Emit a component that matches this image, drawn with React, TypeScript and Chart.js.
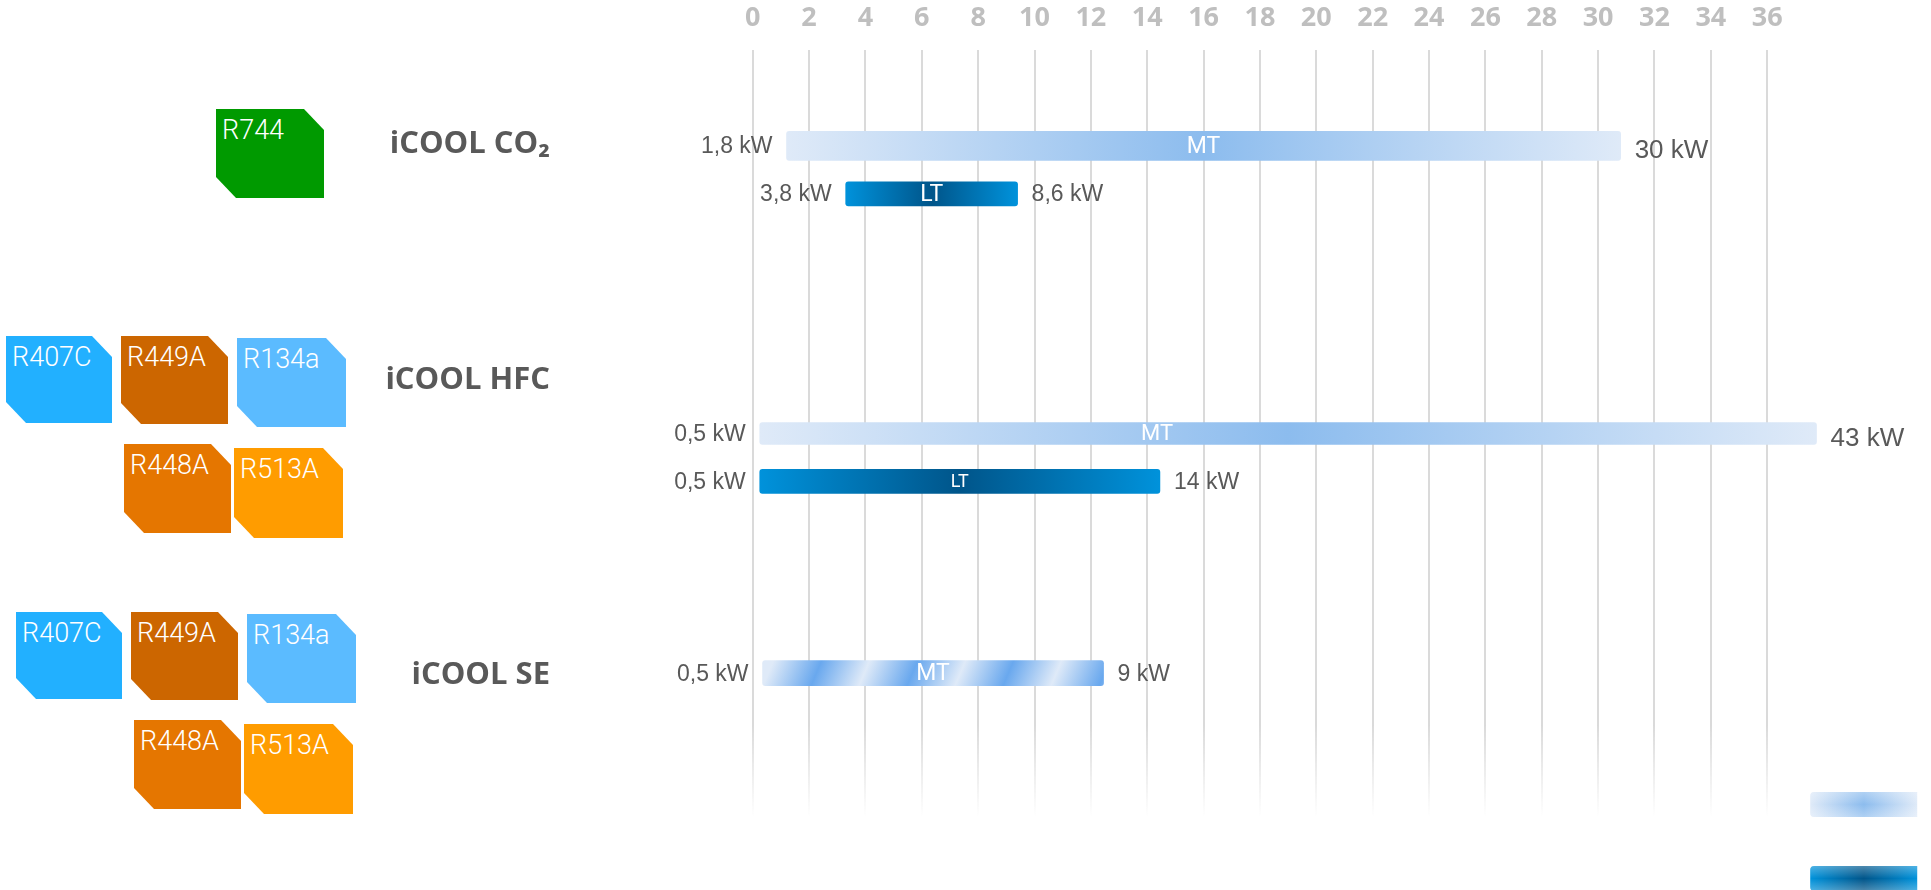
import React, { useEffect, useRef } from 'react';
import { Chart, registerables } from 'chart.js';

Chart.register(...registerables);

// ---------------- data ----------------
const products = ['iCOOL CO₂', 'iCOOL HFC', 'iCOOL SE'];
const co2Refrigerants = ['R744'];
const hfcRefrigerants = ['R407C', 'R449A', 'R134a', 'R448A', 'R513A'];
const seRefrigerants = ['R407C', 'R449A', 'R134a', 'R448A', 'R513A'];

const axisMin = 0;
const axisMax = 36;
const axisStep = 2;

// MT ranges (one per product): bar extent read on the top axis, label values in kW
const mtRows = [2, 8, 13];
const mtBarFrom = [1.2, 0.25, 0.35];
const mtBarTo = [30.8, 37.75, 12.45];
const mtKwMin = [1.8, 0.5, 0.5];
const mtKwMax = [30, 43, 9];

// LT ranges (iCOOL CO₂ and iCOOL HFC only)
const ltRows = [3, 9];
const ltBarFrom = [3.3, 0.25];
const ltBarTo = [9.4, 14.45];
const ltKwMin = [3.8, 0.5];
const ltKwMax = [8.6, 14];

const legendKinds = ['MT', 'LT'];

// ---------------- styles ----------------
const W = 1931;
const H = 890;
const refrigerantColors: Record<string, string> = {
  R744: '#009a00',
  R407C: '#22b0ff',
  R449A: '#cc6600',
  R134a: '#5bbbff',
  R448A: '#e57600',
  R513A: '#ff9c00',
};
const boxLayout = {
  co2: [{ dx: 0, dy: 0, w: 108, h: 89 }],
  multi: [
    { dx: 0, dy: 0, w: 106, h: 87 },
    { dx: 115, dy: 0, w: 107, h: 88 },
    { dx: 231, dy: 2, w: 109, h: 89 },
    { dx: 118, dy: 108, w: 107, h: 89 },
    { dx: 228, dy: 112, w: 109, h: 90 },
  ],
};
const groupOrigins = [
  { x: 216, y: 109 },
  { x: 6, y: 336 },
  { x: 16, y: 612 },
];
const titleTops = [126, 362, 657];
const barStyles = [
  { mtThickness: 29, ltThickness: 24, mtStripes: false, bigEnd: true, mtMidFont: 23, ltMidFont: 23, mtMidAt: 0.5 },
  { mtThickness: 22, ltThickness: 24, mtStripes: false, bigEnd: true, mtMidFont: 22, ltMidFont: 18, mtMidAt: 0.376 },
  { mtThickness: 25, ltThickness: 24, mtStripes: true, bigEnd: false, mtMidFont: 23, ltMidFont: 22, mtMidAt: 0.5 },
];
const MT_EDGE = '#dfeaf8';
const MT_MID = '#8cbcee';
const LT_EDGE = '#0092db';
const LT_MID = '#00558a';
const STRIPE_BLUE = '#69a8ee';
const LABEL_GAP = 14;
const AXIS_BOX_HEIGHT = 47;

const fmtKw = (v: number) => String(v).replace('.', ',') + ' kW';

function makeGradient(chart: any, ds: any, el: { x0: number; x1: number; yTop: number; h: number }) {
  const c: CanvasRenderingContext2D = chart.ctx;
  const { x0, x1, yTop } = el;
  if (ds.kind === 'LT') {
    const g = c.createLinearGradient(x0, 0, x1, 0);
    g.addColorStop(0, LT_EDGE);
    g.addColorStop(0.5, LT_MID);
    g.addColorStop(1, LT_EDGE);
    return g;
  }
  if (!ds.stripes) {
    const g = c.createLinearGradient(x0, 0, x1, 0);
    g.addColorStop(0, MT_EDGE);
    g.addColorStop(0.5, MT_MID);
    g.addColorStop(1, MT_EDGE);
    return g;
  }
  const s = 0.42;
  const len = x1 - x0;
  const g = c.createLinearGradient(x0, yTop, x1, yTop + len * s);
  const denom = len * (1 + s * s);
  const period = 96;
  const stops: [number, string][] = [];
  for (let k = -1; k < 10; k++) {
    const uL = 11 + period * k;
    const uB = 59 + period * k;
    if (uL >= 0 && uL <= denom) stops.push([uL / denom, MT_EDGE]);
    if (uB >= 0 && uB <= denom) stops.push([uB / denom, STRIPE_BLUE]);
  }
  stops.sort((a, b) => a[0] - b[0]);
  stops.forEach(([t, col]) => g.addColorStop(Math.min(1, Math.max(0, t)), col));
  return g;
}

const rangeLabelPlugin = {
  id: 'rangeLabels',
  afterDatasetsDraw(chart: any) {
    const c: CanvasRenderingContext2D = chart.ctx;
    chart.data.datasets.forEach((ds: any, i: number) => {
      const meta = chart.getDatasetMeta(i);
      const el = meta.data[0];
      if (!el) return;
      const { x, base, y } = el.getProps(['x', 'base', 'y'], true);
      const left = Math.min(x, base);
      const right = Math.max(x, base);
      c.save();
      c.textBaseline = 'middle';
      c.fillStyle = '#595959';
      c.font = '23px "Liberation Sans", Arial, sans-serif';
      c.textAlign = 'right';
      c.fillText(fmtKw(ds.kwMin), left - LABEL_GAP, y + 1);
      c.textAlign = 'left';
      c.font = (ds.bigEnd ? '26px' : '23px') + ' "Liberation Sans", Arial, sans-serif';
      c.fillText(fmtKw(ds.kwMax), right + LABEL_GAP, y + (ds.bigEnd ? 5 : 1));
      c.fillStyle = '#ffffff';
      c.textAlign = 'center';
      c.font = ds.midFont + 'px Roboto, sans-serif';
      c.fillText(ds.kind, left + (right - left) * ds.midAt, y + 1);
      c.restore();
    });
  },
  afterDraw(chart: any) {
    const c: CanvasRenderingContext2D = chart.ctx;
    const area = chart.chartArea;
    const sw = { x: area.right + 43, w: 107, h: 25 };
    const tops = [792, 866];
    legendKinds.forEach((kind, i) => {
      const top = tops[i];
      const edge = kind === 'MT' ? MT_EDGE : LT_EDGE;
      const mid = kind === 'MT' ? MT_MID : LT_MID;
      c.save();
      const g = c.createLinearGradient(sw.x, 0, sw.x + sw.w, 0);
      g.addColorStop(0, edge);
      g.addColorStop(0.5, mid);
      g.addColorStop(1, edge);
      c.fillStyle = g;
      c.beginPath();
      (c as any).roundRect(sw.x, top, sw.w, sw.h, [4, 0, 0, 4]);
      c.fill();
      const v = c.createLinearGradient(0, top, 0, top + sw.h);
      v.addColorStop(0, 'rgba(255,255,255,0.3)');
      v.addColorStop(0.5, 'rgba(255,255,255,0)');
      v.addColorStop(1, 'rgba(255,255,255,0.3)');
      c.fillStyle = v;
      c.fill();
      c.restore();
    });
  },
};

function buildDatasets() {
  const datasets: any[] = [];
  products.forEach((p, i) => {
    const st = barStyles[i];
    datasets.push({
      label: p + ' MT',
      kind: 'MT',
      stripes: st.mtStripes,
      bigEnd: st.bigEnd,
      midFont: st.mtMidFont,
      midAt: st.mtMidAt,
      kwMin: mtKwMin[i],
      kwMax: mtKwMax[i],
      data: [{ x: [mtBarFrom[i], mtBarTo[i]], y: mtRows[i] }],
      barThickness: st.mtThickness,
    });
    if (i < ltRows.length) {
      datasets.push({
        label: p + ' LT',
        kind: 'LT',
        stripes: false,
        bigEnd: false,
        midFont: st.ltMidFont,
        midAt: 0.5,
        kwMin: ltKwMin[i],
        kwMax: ltKwMax[i],
        data: [{ x: [ltBarFrom[i], ltBarTo[i]], y: ltRows[i] }],
        barThickness: st.ltThickness,
      });
    }
  });
  datasets.forEach((ds) => {
    ds.grouped = false;
    ds.clip = false;
    ds.borderRadius = 3;
    ds.borderSkipped = false;
    ds.backgroundColor = (ctx: any) => {
      const chart = ctx.chart;
      if (!ctx.raw || !chart.chartArea || !chart.scales.x) return ds.kind === 'LT' ? LT_EDGE : MT_MID;
      const xs = chart.scales.x;
      const ys = chart.scales.y;
      const x0 = xs.getPixelForValue(ctx.raw.x[0]);
      const x1 = xs.getPixelForValue(ctx.raw.x[1]);
      const yc = ys.getPixelForValue(ctx.raw.y);
      const h = ds.barThickness;
      return makeGradient(chart, ds, { x0, x1, yTop: yc - h / 2, h });
    };
  });
  return datasets;
}

function RefBox({ name, left, top, w, h }: { name: string; left: number; top: number; w: number; h: number }) {
  const cut = 20;
  return (
    <div
      style={{
        position: 'absolute',
        left,
        top,
        width: w,
        height: h,
        boxSizing: 'border-box',
        background: refrigerantColors[name],
        clipPath: `polygon(0 0, ${w - cut}px 0, ${w}px ${cut + 1}px, ${w}px ${h}px, ${cut}px ${h}px, 0 ${h - cut - 1}px)`,
        color: '#ffffff',
        fontFamily: 'Roboto, sans-serif',
        fontWeight: 300,
        fontSize: 27,
        lineHeight: 1,
        paddingTop: 8,
        paddingLeft: 6,
      }}
    >
      {name}
    </div>
  );
}

export default function App() {
  const canvasRef = useRef<HTMLCanvasElement | null>(null);

  useEffect(() => {
    document.body.style.margin = '0';
    document.body.style.overflow = 'hidden';
    const canvas = canvasRef.current;
    if (!canvas) return;
    const chart = new Chart(canvas, {
      type: 'bar',
      data: { datasets: buildDatasets() },
      options: {
        indexAxis: 'y',
        responsive: false,
        animation: false,
        events: [],
        layout: { padding: { left: 752.7, right: W - 1767.2, top: 3, bottom: H - 817 } },
        plugins: { legend: { display: false }, tooltip: { enabled: false } },
        scales: {
          x: {
            type: 'linear',
            position: 'top',
            min: axisMin,
            max: axisMax,
            border: { display: false },
            afterFit: (scale: any) => {
              scale.height = AXIS_BOX_HEIGHT;
            },
            grid: {
              lineWidth: 2,
              drawTicks: false,
              color: (ctx: any) => {
                const chart = ctx.chart;
                const a = chart.chartArea;
                if (!a) return '#dadada';
                const g = chart.ctx.createLinearGradient(0, a.top, 0, a.bottom);
                g.addColorStop(0, '#dadada');
                g.addColorStop(0.88, '#dadada');
                g.addColorStop(1, 'rgba(218,218,218,0)');
                return g;
              },
            },
            ticks: {
              stepSize: axisStep,
              padding: 15,
              color: '#bfbfbf',
              font: { family: '"Open Sans", sans-serif', weight: 'bold', size: 27 },
            },
          },
          y: {
            type: 'linear',
            display: false,
            offset: false,
            reverse: true,
            min: 0,
            max: 16,
          },
        },
      } as any,
      plugins: [rangeLabelPlugin],
    });
    return () => chart.destroy();
  }, []);

  const groups = [co2Refrigerants, hfcRefrigerants, seRefrigerants];

  return (
    <div style={{ position: 'relative', width: W, height: H, overflow: 'hidden', background: '#ffffff' }}>
      <canvas ref={canvasRef} width={W} height={H} style={{ position: 'absolute', left: 0, top: 0 }} />
      {groups.map((g, gi) =>
        g.map((name, k) => {
          const lay = gi === 0 ? boxLayout.co2[k] : boxLayout.multi[k];
          return (
            <RefBox
              key={gi + '-' + name}
              name={name}
              left={groupOrigins[gi].x + lay.dx}
              top={groupOrigins[gi].y + lay.dy}
              w={lay.w}
              h={lay.h}
            />
          );
        })
      )}
      {products.map((p, i) => (
        <div
          key={p}
          style={{
            position: 'absolute',
            left: 0,
            top: titleTops[i],
            width: 550,
            textAlign: 'right',
            fontFamily: '"Open Sans", sans-serif',
            fontWeight: 700,
            fontSize: 31,
            lineHeight: 1,
            color: '#595959',
            whiteSpace: 'nowrap',
          }}
        >
          {p}
        </div>
      ))}
    </div>
  );
}
